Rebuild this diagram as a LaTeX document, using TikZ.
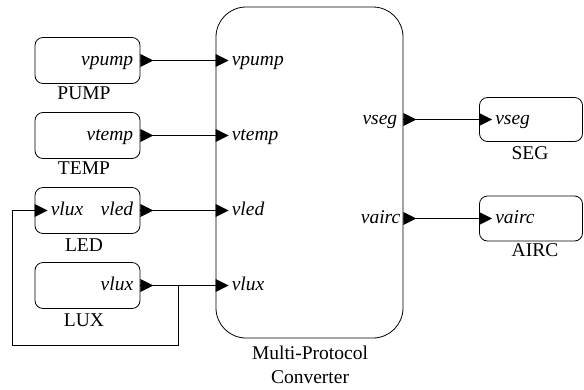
\documentclass[tikz,border=0pt]{standalone}
\usepackage{fontspec}
\setmainfont{Liberation Serif}
\begin{document}
\begin{tikzpicture}[x=1pt,y=-1pt,
  font=\fontsize{19.5}{22}\selectfont,
  blk/.style={draw, rounded corners=8pt, line width=0.8pt,
    minimum width=105pt, minimum height=46pt, inner sep=0pt},
  wire/.style={line width=1.5pt},
  port/.pic={\fill (0pt,6.5pt) -- (13pt,0pt) -- (0pt,-6.5pt) -- cycle;},
  plab/.style={font=\fontsize{19.5}{22}\selectfont\itshape, inner sep=0pt},
  blkname/.style={inner sep=0pt, anchor=base}]
\useasboundingbox (0,0) rectangle (584,389);

% converter block
\node[draw, rounded corners=30pt, line width=0.8pt, minimum width=187pt,
  minimum height=331pt, inner sep=0pt] (mpc) at (309.5,172.5) {};
\node[blkname] (mpcl1) at (310,359) {Multi-Protocol};
\node[blkname] (mpcl2) at (310,383) {Converter};

% sensor / actuator blocks
\node[blk] (pump) at (87.5,60.5) {};
\node[blk] (temp) at (87.5,135.5) {};
\node[blk] (led)  at (87.5,210.5) {};
\node[blk] (lux)  at (87.5,285.5) {};
\node[blk, minimum width=103pt, minimum height=44pt] (seg)  at (531,119.5) {};
\node[blk, minimum width=103pt, minimum height=45pt] (airc) at (531,218.5) {};

\node[blkname] (pumpc) at (84,99) {PUMP};
\node[blkname] (tempc) at (84,174) {TEMP};
\node[blkname] (ledc)  at (84,251) {LED};
\node[blkname] (luxc)  at (84,326) {LUX};
\node[blkname] (segc)  at (530,159) {SEG};
\node[blkname] (aircc) at (535,256) {AIRC};

% port coordinates on the converter
\coordinate (mpump) at (mpc.west |- pump.east);
\coordinate (mtemp) at (mpc.west |- temp.east);
\coordinate (mled)  at (mpc.west |- led.east);
\coordinate (mlux)  at (mpc.west |- lux.east);
\coordinate (mseg)  at (mpc.east |- seg.west);
\coordinate (mairc) at (mpc.east |- airc.west);

% wires
\draw[wire] (pump.east) -- (mpump);
\draw[wire] (temp.east) -- (mtemp);
\draw[wire] (led.east) -- (mled);
\draw[wire] (lux.east) -- (mlux);
\draw[wire] (mseg) -- (seg.west);
\draw[wire] (mairc) -- (airc.west);

% lux feedback into the LED block
\coordinate (tap) at (178,285.5);
\coordinate (fbl) at (12.5,345);
\draw[line width=1pt] (tap) |- (fbl) |- (led.west);

% port triangles
\foreach \p in {pump.east,temp.east,led.east,lux.east,mpump,mtemp,mled,mlux,mseg,mairc,seg.west,airc.west,led.west}
  \pic at (\p) {port};

% port labels
\node[plab, anchor=base east, xshift=-7pt, yshift=-4.5pt] (lpump) at (pump.east) {vpump};
\node[plab, anchor=base east, xshift=-7pt, yshift=-4.5pt] (ltemp) at (temp.east) {vtemp};
\node[plab, anchor=base east, xshift=-7pt, yshift=-4.5pt] (lled)  at (led.east)  {vled};
\node[plab, anchor=base east, xshift=-7pt, yshift=-4.5pt] (llux)  at (lux.east)  {vlux};
\node[plab, anchor=base west, xshift=16pt, yshift=-4.5pt] (lledin) at (led.west) {vlux};

\node[plab, anchor=base west, xshift=16pt, yshift=-4.5pt] (mlpump) at (mpump) {vpump};
\node[plab, anchor=base west, xshift=16pt, yshift=-4.5pt] (mltemp) at (mtemp) {vtemp};
\node[plab, anchor=base west, xshift=16pt, yshift=-4.5pt] (mlled)  at (mled)  {vled};
\node[plab, anchor=base west, xshift=16pt, yshift=-4.5pt] (mllux)  at (mlux)  {vlux};
\node[plab, anchor=base east, xshift=-6pt, yshift=-4.5pt] (mlseg)  at (mseg)  {vseg};
\node[plab, anchor=base east, xshift=-3pt, yshift=-4.5pt] (mlairc) at (mairc) {vairc};

\node[plab, anchor=base west, xshift=16pt, yshift=-4.5pt] (lseg)  at (seg.west)  {vseg};
\node[plab, anchor=base west, xshift=16pt, yshift=-4.5pt] (lairc) at (airc.west) {vairc};
\end{tikzpicture}
\end{document}
